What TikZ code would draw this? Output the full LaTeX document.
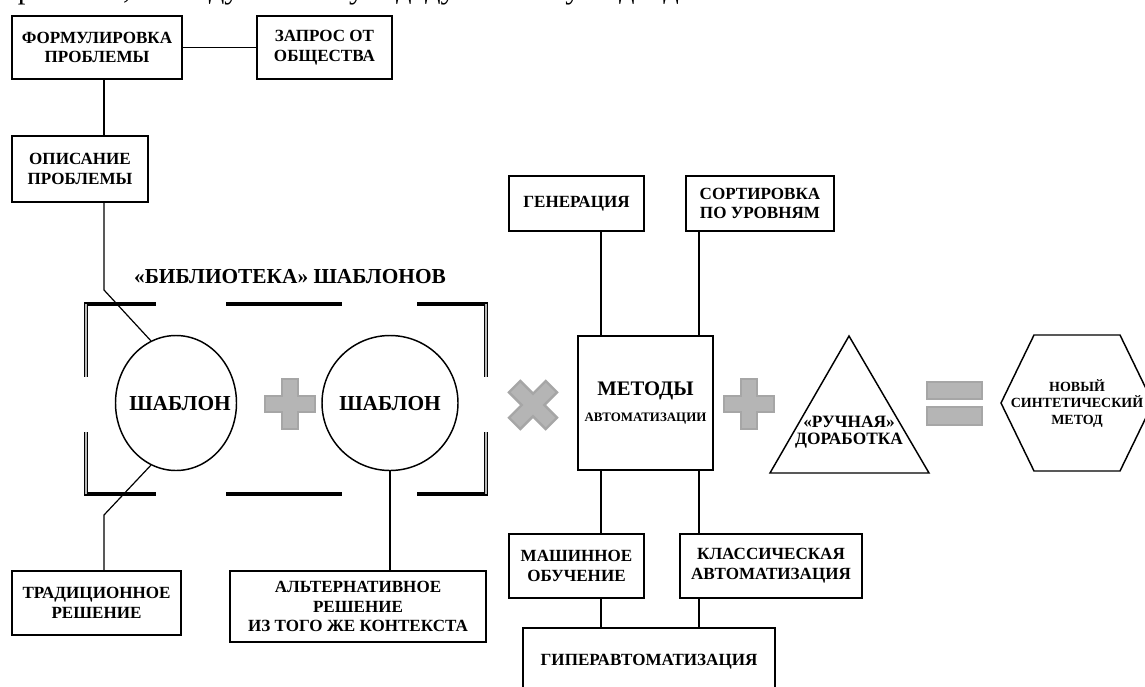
\documentclass[tikz,border=0pt]{standalone}
\usepackage{fontspec}
\setmainfont{Liberation Serif}
\usetikzlibrary{shapes.geometric}
\begin{document}
\begin{tikzpicture}[x=0.75pt,y=-0.75pt,
  box/.style={draw, line width=1.2pt, align=center, inner sep=0pt, font=\bfseries\fontsize{12.8}{14.8}\selectfont},
  bx/.style 2 args={box, minimum width=#1*0.75pt, minimum height=#2*0.75pt},
  circ/.style={draw, ellipse, line width=1.1pt, inner sep=0pt},
  big/.style={font=\bfseries\fontsize{16}{18}\selectfont, inner sep=0pt},
  lbl/.style={align=center, inner sep=0pt, font=\bfseries\fontsize{12}{13}\selectfont},
  conn/.style={line width=0.9pt},
  shp/.style={line width=1.1pt, line join=miter},
  sym/.style={fill=gray!58, draw=gray!70, line width=1.8pt, line join=miter},
  brh/.style={line width=2.6pt, line cap=rect},
  brv/.style={double=gray!55, line width=0.9pt, double distance=0.9pt},
  plussign/.pic={\path[sym] (-8,-25)--(8,-25)--(8,-8)--(25,-8)--(25,8)--(8,8)--(8,25)--(-8,25)--(-8,8)--(-25,8)--(-25,-8)--(-8,-8)--cycle;},
  crosssign/.pic={\path[sym] (-8,-26)--(8,-26)--(8,-8)--(26,-8)--(26,8)--(8,8)--(8,26)--(-8,26)--(-8,8)--(-26,8)--(-26,-8)--(-8,-8)--cycle;}
  ]
\useasboundingbox (0,0) rectangle (1145,686);
\clip (0,0) rectangle (1145,686);
\fill[white] (0,0) rectangle (1145,686);

% cut-off text line at the top
\node[anchor=base east, inner sep=0pt, font=\fontsize{23}{26}\selectfont] (toptext) at (720,-2) {ретении, не индуктивному и дедуктивному подходам.};

% left part
\node[bx={170}{63}] (form) at (97,47.5) {ФОРМУЛИРОВКА\\ПРОБЛЕМЫ};
\node[bx={135}{63}] (zapr) at (324.5,47.5) {ЗАПРОС ОТ\\ОБЩЕСТВА};
\node[bx={136}{66}] (opis) at (80,169) {ОПИСАНИЕ\\ПРОБЛЕМЫ};
\node[bx={169}{64}] (trad) at (96.5,603) {ТРАДИЦИОННОЕ\\РЕШЕНИЕ};
\node[bx={256}{71}] (alt) at (358,606.5) {АЛЬТЕРНАТИВНОЕ\\РЕШЕНИЕ\\ИЗ ТОГО ЖЕ КОНТЕКСТА};

\node[big] (title) at (290,277) {«БИБЛИОТЕКА» ШАБЛОНОВ};
\node[circ, minimum width=121*0.75pt, minimum height=135*0.75pt] (c1) at (176,403) {};
\node[big] (s1) at (180,404) {ШАБЛОН};
\node[circ, minimum width=136*0.75pt, minimum height=135*0.75pt] (c2) at (390,403) {};
\node[big] (s2) at (390,404) {ШАБЛОН};

% library brackets
\draw[brh] (86,304)--(154,304) (228,304)--(340,304) (419,304)--(486,304);
\draw[brh] (86,494)--(154,494) (228,494)--(340,494) (419,494)--(486,494);
\draw[brv] (86,304)--(86,377) (86,432)--(86,494) (486,304)--(486,377) (486,432)--(486,494);

% right part
\node[bx={135}{55}] (gen) at (576.5,203.5) {ГЕНЕРАЦИЯ};
\node[bx={148}{55}] (sort) at (760,203.5) {СОРТИРОВКА\\ПО УРОВНЯМ};
\node[bx={135}{134}] (met) at (645.5,403) {{\fontsize{15.5}{18}\selectfont МЕТОДЫ}\\[5pt]{\fontsize{9.7}{11}\selectfont АВТОМАТИЗАЦИИ}};
\node[bx={135}{64}] (mash) at (576.5,566) {МАШИННОЕ\\ОБУЧЕНИЕ};
\node[bx={182}{64}] (klass) at (771,566) {КЛАССИЧЕСКАЯ\\АВТОМАТИЗАЦИЯ};
\node[bx={252}{68}] (hyp) at (649,662) {ГИПЕРАВТОМАТИЗАЦИЯ};

% triangle
\coordinate (ta) at (849,336);
\coordinate (tl) at (770,473);
\coordinate (tr) at (929,473);
\draw[shp] (ta)--(tl)--(tr)--cycle;
\node[lbl, font=\bfseries\fontsize{13}{13}\selectfont] (ruch) at (849,432) {«РУЧНАЯ»\\ДОРАБОТКА};

% hexagon
\coordinate (h1) at (1001,403);
\coordinate (h2) at (1034,335);
\coordinate (h3) at (1120,335);
\coordinate (h4) at (1153,403);
\coordinate (h5) at (1120,471);
\coordinate (h6) at (1034,471);
\draw[shp] (h1)--(h2)--(h3)--(h4)--(h5)--(h6)--cycle;
\node[lbl, font=\bfseries\fontsize{10.5}{12.4}\selectfont] (nov) at (1077,403.5) {НОВЫЙ\\СИНТЕТИЧЕСКИЙ\\МЕТОД};

% operators
\pic at (290,404) {plussign};
\pic[rotate=45] at (533,405) {crosssign};
\pic at (749,404) {plussign};
\path[sym] (927,382) rectangle (982,399) (927,407) rectangle (982,425);

% connectors
\coordinate (lx) at (104,0);
\coordinate (k1) at (104,290);
\coordinate (k2) at (104,515);
\coordinate (l2) at (601,0);
\coordinate (l3) at (699,0);
\draw[conn] (form.east) -- (zapr.west);
\draw[conn] (form.south -| lx) -- (opis.north -| lx);
\draw[conn] (opis.south -| lx) -- (k1) -- (c1.112);
\draw[conn] (c1.248) -- (k2) -- (trad.north -| lx);
\draw[conn] (c2.south) -- (c2.south |- alt.north);
\draw[conn] (gen.south -| l2) -- (met.north -| l2);
\draw[conn] (sort.south -| l3) -- (met.north -| l3);
\draw[conn] (met.south -| l2) -- (mash.north -| l2);
\draw[conn] (met.south -| l3) -- (klass.north -| l3);
\draw[conn] (mash.south -| l2) -- (hyp.north -| l2);
\draw[conn] (klass.south -| l3) -- (hyp.north -| l3);
\end{tikzpicture}
\end{document}
